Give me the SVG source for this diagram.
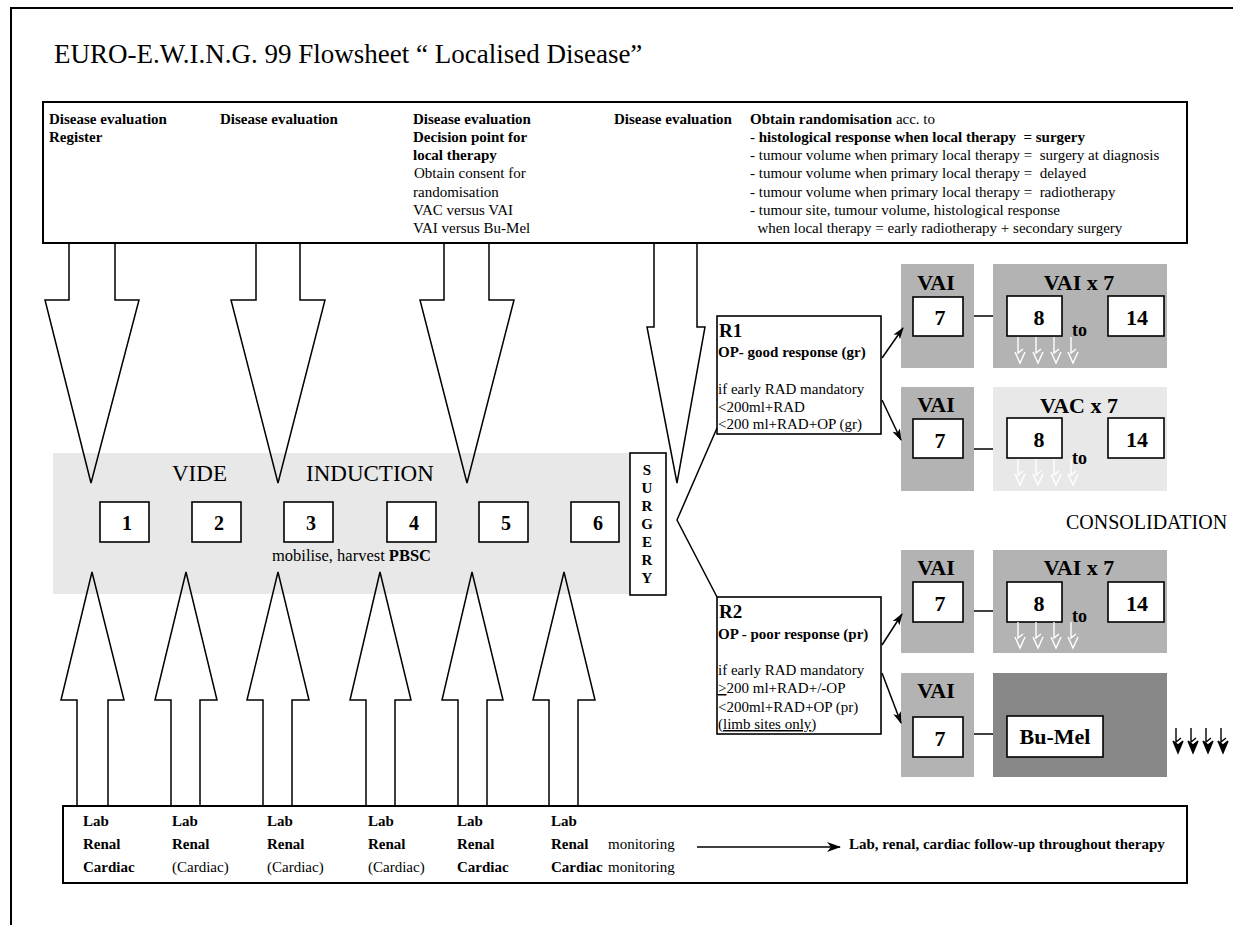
<svg xmlns="http://www.w3.org/2000/svg" width="1233" height="925" viewBox="0 0 1233 925">
<style>
text{font-family:"Liberation Serif","Times New Roman",serif;fill:#000;white-space:pre}
.t15{font-size:15px}
.b{font-weight:bold}
.box{fill:#fff;stroke:#000;stroke-width:1.6}
.ln{fill:none;stroke:#000;stroke-width:1.5}
.big{font-size:23px}
.num{font-size:20px;font-weight:bold;text-anchor:middle}
.lab{font-size:22px;font-weight:bold;text-anchor:middle}
.g1{fill:#b3b3b3}
.g2{fill:#e8e8e8}
.g3{fill:#878787}
</style>
<defs>
<marker id="ah" viewBox="0 0 12 8" refX="11" refY="4" markerWidth="12" markerHeight="8" markerUnits="userSpaceOnUse" orient="auto">
<path d="M0,0 L12,4 L0,8 L3,4 Z" fill="#000"/>
</marker>
<marker id="ah2" viewBox="0 0 14 10" refX="13" refY="5" markerWidth="14" markerHeight="10" markerUnits="userSpaceOnUse" orient="auto">
<path d="M0,0 L14,5 L0,10 L4,5 Z" fill="#000"/>
</marker>
<g id="wArrow" fill="none" stroke="#fff" stroke-width="1.4">
<path d="M0,0 V16 L5,12"/>
<path d="M-3,15 L2,26 L7,15"/>
</g>
<g id="bArrow" stroke="#000" stroke-width="1.4">
<path d="M0,0 V14 L5,10" fill="none"/>
<path d="M-3,13 L2,25 L7,13 L2,17 Z" fill="#000"/>
</g>
</defs>
<rect width="1233" height="925" fill="#fff"/>
<path d="M11,925 V8 H1240" fill="none" stroke="#000" stroke-width="2"/>
<text id="title" x="54" y="63" style="font-size:27px">EURO-E.W.I.N.G. 99 Flowsheet “ Localised Disease”</text>

<g id="top-box">
<rect x="43" y="102" width="1144" height="141" fill="#fff" stroke="#000" stroke-width="2"/>
<text class="t15 b" x="49" y="124">Disease evaluation</text>
<text class="t15 b" x="49" y="142">Register</text>
<text class="t15 b" x="220" y="124">Disease evaluation</text>
<text class="t15 b" x="413" y="124">Disease evaluation</text>
<text class="t15 b" x="413" y="142">Decision point for</text>
<text class="t15 b" x="413" y="160">local therapy</text>
<text class="t15" x="414" y="178">Obtain consent for</text>
<text class="t15" x="413" y="197">randomisation</text>
<text class="t15" x="413" y="215">VAC versus VAI</text>
<text class="t15" x="413" y="233">VAI versus Bu-Mel</text>
<text class="t15 b" x="614" y="124">Disease evaluation</text>
<text class="t15" x="750" y="124"><tspan class="b">Obtain randomisation</tspan> acc. to</text>
<text class="t15" x="750" y="142">- <tspan class="b">histological response when local therapy  = surgery</tspan></text>
<text class="t15" x="750" y="160">- tumour volume when primary local therapy =  surgery at diagnosis</text>
<text class="t15" x="750" y="178">- tumour volume when primary local therapy =  delayed</text>
<text class="t15" x="750" y="197">- tumour volume when primary local therapy =  radiotherapy</text>
<text class="t15" x="750" y="215">- tumour site, tumour volume, histological response</text>
<text class="t15" x="750" y="233">  when local therapy = early radiotherapy + secondary surgery</text>
</g>

<g id="induction">
<rect x="53" y="453" width="577" height="141" class="g2"/>
<text class="big" x="172" y="481">VIDE</text>
<text class="big" x="306" y="481">INDUCTION</text>
<rect class="box" x="100" y="502" width="49" height="40"/><text class="num" x="127" y="530">1</text>
<rect class="box" x="192" y="502" width="49" height="40"/><text class="num" x="219" y="530">2</text>
<rect class="box" x="284" y="502" width="49" height="40"/><text class="num" x="311" y="530">3</text>
<rect class="box" x="387" y="502" width="49" height="40"/><text class="num" x="414" y="530">4</text>
<rect class="box" x="479" y="502" width="49" height="40"/><text class="num" x="506" y="530">5</text>
<rect class="box" x="571" y="502" width="48" height="40"/><text class="num" x="598" y="530">6</text>
<text x="272" y="561" style="font-size:16.5px">mobilise, harvest <tspan class="b">PBSC</tspan></text>
</g>

<g id="surgery">
<rect class="box" x="630" y="453" width="36" height="142"/>
<g class="t15 b" style="text-anchor:middle">
<text x="647" y="475">S</text><text x="647" y="493">U</text><text x="647" y="511">R</text><text x="647" y="529">G</text><text x="647" y="547">E</text><text x="647" y="565">R</text><text x="647" y="583">Y</text>
</g>
</g>

<g id="R1">
<rect class="box" x="717" y="316" width="164" height="118"/>
<text x="719" y="337" style="font-size:19px;font-weight:bold">R1</text>
<text class="t15 b" x="718" y="357">OP- good response (gr)</text>
<text class="t15" x="718" y="394">if early RAD mandatory</text>
<text class="t15" x="718" y="412">&lt;200ml+RAD</text>
<text class="t15" x="718" y="429">&lt;200 ml+RAD+OP (gr)</text>
</g>

<g id="R2">
<rect class="box" x="717" y="597" width="164" height="137"/>
<text x="719" y="618" style="font-size:19px;font-weight:bold">R2</text>
<text class="t15 b" x="718" y="639">OP - poor response (pr)</text>
<text class="t15" x="718" y="675">if early RAD mandatory</text>
<text class="t15" x="718" y="693"><tspan text-decoration="underline">&gt;</tspan>200 ml+RAD+/-OP</text>
<text class="t15" x="718" y="712">&lt;200ml+RAD+OP (pr)</text>
<text class="t15" x="718" y="729">(<tspan text-decoration="underline">limb sites only</tspan>)</text>
</g>

<g id="row1">
<rect class="g1" x="901" y="264" width="73" height="104"/>
<text class="lab" x="936" y="290">VAI</text>
<rect class="box" x="913" y="297" width="50" height="39"/><text class="lab" x="940" y="325">7</text>
<rect class="g1" x="993" y="264" width="174" height="104"/>
<text class="lab" x="1079" y="290">VAI x 7</text>
<rect class="box" x="1007" y="296" width="55" height="40"/><text class="lab" x="1039" y="325">8</text>
<text x="1072" y="336" style="font-size:18px;font-weight:bold">to</text>
<rect class="box" x="1108" y="296" width="56" height="40"/><text class="lab" x="1137" y="325">14</text>
<use href="#wArrow" x="1018" y="337"/><use href="#wArrow" x="1036" y="337"/><use href="#wArrow" x="1054" y="337"/><use href="#wArrow" x="1071" y="337"/>
</g>

<g id="row2">
<rect class="g1" x="901" y="387" width="73" height="104"/>
<text class="lab" x="936" y="412">VAI</text>
<rect class="box" x="913" y="419" width="50" height="39"/><text class="lab" x="940" y="448">7</text>
<rect class="g2" x="993" y="387" width="174" height="104"/>
<text class="lab" x="1079" y="413">VAC x 7</text>
<rect class="box" x="1007" y="418" width="55" height="40"/><text class="lab" x="1039" y="447">8</text>
<text x="1072" y="464" style="font-size:18px;font-weight:bold">to</text>
<rect class="box" x="1108" y="418" width="56" height="40"/><text class="lab" x="1137" y="447">14</text>
<use href="#wArrow" x="1018" y="459"/><use href="#wArrow" x="1036" y="459"/><use href="#wArrow" x="1054" y="459"/><use href="#wArrow" x="1071" y="459"/>
</g>

<text id="consolidation" class="big" x="1066" y="529" style="font-size:20px">CONSOLIDATION</text>

<g id="row3">
<rect class="g1" x="901" y="550" width="73" height="103"/>
<text class="lab" x="936" y="575">VAI</text>
<rect class="box" x="913" y="582" width="50" height="40"/><text class="lab" x="940" y="611">7</text>
<rect class="g1" x="993" y="550" width="174" height="103"/>
<text class="lab" x="1079" y="575">VAI x 7</text>
<rect class="box" x="1007" y="582" width="55" height="40"/><text class="lab" x="1039" y="611">8</text>
<text x="1072" y="622" style="font-size:18px;font-weight:bold">to</text>
<rect class="box" x="1108" y="582" width="56" height="40"/><text class="lab" x="1137" y="611">14</text>
<use href="#wArrow" x="1018" y="622"/><use href="#wArrow" x="1036" y="622"/><use href="#wArrow" x="1054" y="622"/><use href="#wArrow" x="1071" y="622"/>
</g>

<g id="row4">
<rect class="g1" x="901" y="673" width="73" height="104"/>
<text class="lab" x="936" y="698">VAI</text>
<rect class="box" x="913" y="717" width="50" height="40"/><text class="lab" x="940" y="746">7</text>
<rect class="g3" x="993" y="673" width="174" height="104"/>
<rect class="box" x="1007" y="716" width="96" height="41"/><text class="lab" x="1055" y="744">Bu-Mel</text>
<use href="#bArrow" x="1176" y="728"/><use href="#bArrow" x="1191" y="728"/><use href="#bArrow" x="1206" y="728"/><use href="#bArrow" x="1221" y="728"/>
</g>

<g id="bottom-box">
<rect x="63" y="806" width="1124" height="77" fill="#fff" stroke="#000" stroke-width="2"/>
<g class="t15">
<text class="b" x="83" y="826">Lab</text><text class="b" x="83" y="849">Renal</text><text class="b" x="83" y="872">Cardiac</text>
<text class="b" x="172" y="826">Lab</text><text class="b" x="172" y="849">Renal</text><text x="172" y="872">(Cardiac)</text>
<text class="b" x="267" y="826">Lab</text><text class="b" x="267" y="849">Renal</text><text x="267" y="872">(Cardiac)</text>
<text class="b" x="368" y="826">Lab</text><text class="b" x="368" y="849">Renal</text><text x="368" y="872">(Cardiac)</text>
<text class="b" x="457" y="826">Lab</text><text class="b" x="457" y="849">Renal</text><text class="b" x="457" y="872">Cardiac</text>
<text class="b" x="551" y="826">Lab</text><text class="b" x="551" y="849">Renal</text><text class="b" x="551" y="872">Cardiac</text>
<text x="608" y="849">monitoring</text><text x="608" y="872">monitoring</text>
<text class="b" x="849" y="849">Lab, renal, cardiac follow-up throughout therapy</text>
</g>
</g>

<g id="connectors">
<path class="ln" d="M69,243 V300 H45 L91,483 L139,300 H115 V243"/>
<path class="ln" d="M256,243 V300 H231 L278,483 L325,300 H300 V243"/>
<path class="ln" d="M444,243 V300 H420 L467,483 L514,300 H489 V243"/>
<path class="ln" d="M654,243 V327 H647 L677,483 L705,327 H697 V243"/>
<path class="ln" d="M77,806 V700 H61 L92,572 L124,700 H108 V806"/>
<path class="ln" d="M171,806 V700 H155 L186,572 L217,700 H200 V806"/>
<path class="ln" d="M263,806 V700 H247 L278,572 L309,700 H292 V806"/>
<path class="ln" d="M366,806 V700 H350 L380,572 L411,700 H395 V806"/>
<path class="ln" d="M458,806 V700 H442 L472,572 L503,700 H487 V806"/>
<path class="ln" d="M549,806 V700 H533 L564,572 L595,700 H578 V806"/>
<path class="ln" d="M717,428 L677,520 L717,597"/>
<line class="ln" x1="882" y1="358" x2="903" y2="328" marker-end="url(#ah)"/>
<line class="ln" x1="882" y1="400" x2="901" y2="440" marker-end="url(#ah)"/>
<line class="ln" x1="882" y1="645" x2="902" y2="614" marker-end="url(#ah)"/>
<line class="ln" x1="882" y1="673" x2="901" y2="723" marker-end="url(#ah)"/>
<line class="ln" x1="974" y1="316" x2="993" y2="316"/>
<line class="ln" x1="974" y1="449" x2="993" y2="449"/>
<line class="ln" x1="974" y1="611" x2="993" y2="611"/>
<line class="ln" x1="974" y1="734" x2="993" y2="734"/>
<line class="ln" x1="697" y1="847" x2="840" y2="847" marker-end="url(#ah2)"/>
</g>
</svg>
